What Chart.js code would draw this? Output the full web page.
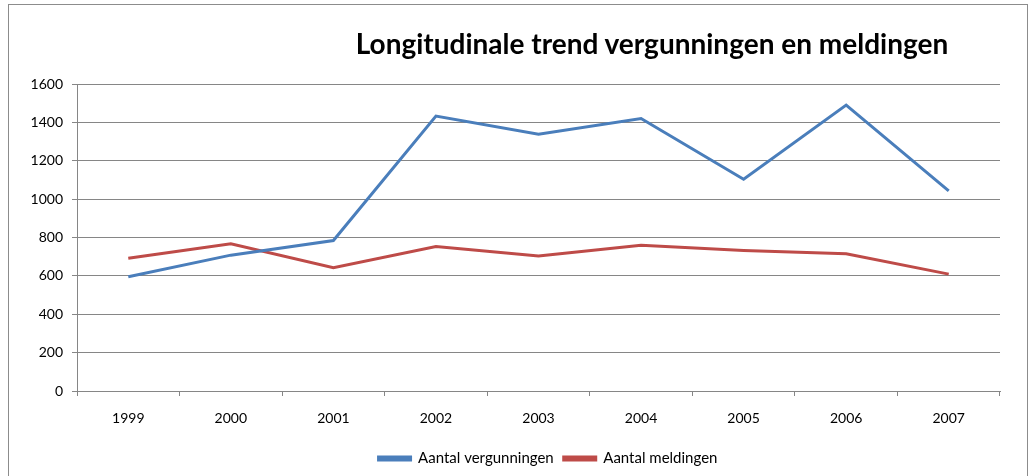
<!DOCTYPE html>
<html>
<head>
<meta charset="utf-8">
<script src="https://cdn.jsdelivr.net/npm/chart.js@4.4.0/dist/chart.umd.min.js"></script>
<style>
  html, body { margin: 0; padding: 0; background: #fff; }
  #wrap { position: relative; width: 1034px; height: 476px; overflow: hidden; }
  #frame { position: absolute; left: 8px; top: 4px; width: 1018px; height: 480px; border: 1px solid #8c8c8c; pointer-events: none; }
  #title { position: absolute; left: 352px; top: 26px; width: 600px; text-align: center;
           font-family: Lato, "Open Sans", sans-serif; font-weight: bold; font-size: 28px; line-height: 34px; color: #000; white-space: nowrap; }
  canvas { position: absolute; left: 0; top: 0; }
</style>
</head>
<body>
<div id="wrap">
  <canvas id="lineChart" width="1034" height="476"></canvas>
  <div id="frame"></div>
  <div id="title">Longitudinale trend vergunningen en meldingen</div>
</div>
<script>
// ---------- data ----------
const years = ["1999", "2000", "2001", "2002", "2003", "2004", "2005", "2006", "2007"];
const vergunningen = [595, 708, 784, 1433, 1338, 1420, 1104, 1490, 1043];
const meldingen = [692, 767, 642, 753, 703, 760, 732, 715, 609];
const seriesLabels = ["Aantal vergunningen", "Aantal meldingen"];

const gridColor = "#868686";
const fontFamily = 'Lato, "Open Sans", sans-serif';

// shift the legend a bit to the right, like the original
const legendShift = {
    id: 'legendShift',
    afterLayout(chart) {
        chart.legend.left += 48;
        chart.legend.right += 48;
    }
};

let lineCanvas = new Chart(document.getElementById("lineChart"), {
    type: 'line',
    data: {
        labels: years,
        datasets: [{
            label: seriesLabels[0],
            data: vergunningen,
            borderColor: "#4a7ebb",
            backgroundColor: "#4a7ebb",
            borderWidth: 3,
            pointRadius: 0,
            tension: 0
        }, {
            label: seriesLabels[1],
            data: meldingen,
            borderColor: "#be4b48",
            backgroundColor: "#be4b48",
            borderWidth: 3,
            pointRadius: 0,
            tension: 0
        }]
    },
    options: {
        responsive: false,
        animation: false,
        layout: {
            padding: { top: 84, right: 34, bottom: 0, left: 0 }
        },
        scales: {
            x: {
                offset: true,
                grid: {
                    offset: true,
                    drawOnChartArea: false,
                    drawTicks: true,
                    tickLength: 5,
                    color: gridColor
                },
                border: { color: gridColor },
                ticks: {
                    color: "#000",
                    padding: 14,
                    font: { family: fontFamily, size: 14 }
                },
                afterFit: (scale) => { scale.height = 50; }
            },
            y: {
                min: 0,
                max: 1600,
                ticks: {
                    stepSize: 200,
                    color: "#000",
                    padding: 9,
                    font: { family: fontFamily, size: 14 },
                    callback: (value) => String(value)
                },
                grid: {
                    color: gridColor,
                    tickLength: 5
                },
                border: { color: gridColor },
                afterFit: (scale) => { scale.width = 77; }
            }
        },
        plugins: {
            title: { display: false },
            tooltip: { enabled: false },
            legend: {
                position: 'bottom',
                labels: {
                    boxWidth: 32,
                    boxHeight: 3,
                    padding: 10,
                    color: "#000",
                    font: { family: fontFamily, size: 15 }
                }
            }
        }
    },
    plugins: [legendShift]
});
</script>
</body>
</html>
